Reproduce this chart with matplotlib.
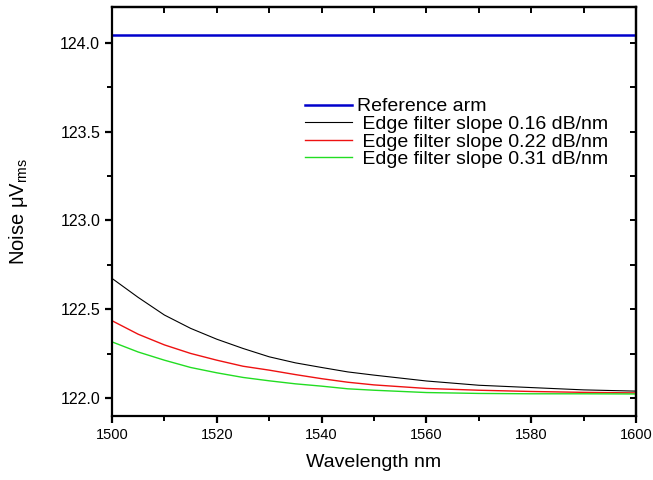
import matplotlib
matplotlib.use("Agg")
import matplotlib.pyplot as plt
from matplotlib.ticker import MultipleLocator, FormatStrFormatter

plt.rcParams['font.family'] = ['Liberation Sans', 'DejaVu Sans']
plt.rcParams['mathtext.default'] = 'regular'

# ---------------------------
# Data
# ---------------------------
wavelength = [1500, 1505, 1510, 1515, 1520, 1525, 1530, 1535, 1540, 1545,
              1550, 1560, 1570, 1580, 1590, 1600]

reference_arm = [124.045] * len(wavelength)
slope_016 = [122.674, 122.567, 122.468, 122.393, 122.332, 122.280, 122.233, 122.199,
             122.173, 122.148, 122.130, 122.097, 122.073, 122.060, 122.047, 122.040]
slope_022 = [122.436, 122.360, 122.300, 122.252, 122.214, 122.180, 122.158, 122.133,
             122.110, 122.090, 122.075, 122.055, 122.045, 122.038, 122.033, 122.030]
slope_031 = [122.317, 122.260, 122.214, 122.173, 122.143, 122.117, 122.098, 122.081,
             122.068, 122.053, 122.045, 122.032, 122.027, 122.025, 122.025, 122.024]

labels = ["Reference arm",
          " Edge filter slope 0.16 dB/nm",
          " Edge filter slope 0.22 dB/nm",
          " Edge filter slope 0.31 dB/nm"]

fig = plt.figure(figsize=(6.53, 4.8), dpi=100)
ax = fig.add_axes([0.1715, 0.1333, 0.8025, 0.852])

ax.plot(wavelength, reference_arm, color="#0000cc", linewidth=1.8, label=labels[0])
ax.plot(wavelength, slope_016, color="black", linewidth=0.8, label=labels[1])
ax.plot(wavelength, slope_022, color="#ee1111", linewidth=1.0, label=labels[2])
ax.plot(wavelength, slope_031, color="#22dd22", linewidth=1.0, label=labels[3])

ax.set_xlim(1500, 1600)
ax.set_ylim(121.9, 124.2)
ax.xaxis.set_major_locator(MultipleLocator(20))
ax.xaxis.set_minor_locator(MultipleLocator(10))
ax.yaxis.set_major_locator(MultipleLocator(0.5))
ax.yaxis.set_minor_locator(MultipleLocator(0.25))
ax.yaxis.set_major_formatter(FormatStrFormatter("%.1f"))

for s in ax.spines.values():
    s.set_linewidth(1.6)
ax.tick_params(which="major", direction="out", length=5, width=1.6, colors="black")
ax.tick_params(which="minor", direction="out", length=3.5, width=1.4)
ax.tick_params(axis="x", labelsize=10.5)
ax.tick_params(axis="y", labelsize=11.5)

# mirrored ticks on top and right, pointing inward
top = ax.secondary_xaxis("top")
top.set_xticks(range(1510, 1600, 10))
top.tick_params(direction="in", length=4, width=1.4, labeltop=False)
top.spines["top"].set_linewidth(1.6)
right = ax.secondary_yaxis("right")
right.set_yticks([122.0, 122.25, 122.5, 122.75, 123.0, 123.25, 123.5, 123.75, 124.0])
right.tick_params(direction="in", length=4, width=1.4, labelright=False)
right.spines["right"].set_linewidth(1.6)

ax.set_xlabel("Wavelength nm", fontsize=14, labelpad=9)
ax.set_ylabel("Noise μV$_{rms}$", fontsize=14.5, labelpad=22)

leg = ax.legend(loc="upper left", bbox_to_anchor=(0.368, 0.778), frameon=False,
                fontsize=14, handlelength=2.4, handletextpad=0.3,
                labelspacing=0.0, borderpad=0, borderaxespad=0)

plt.savefig("out.png", dpi=100)
